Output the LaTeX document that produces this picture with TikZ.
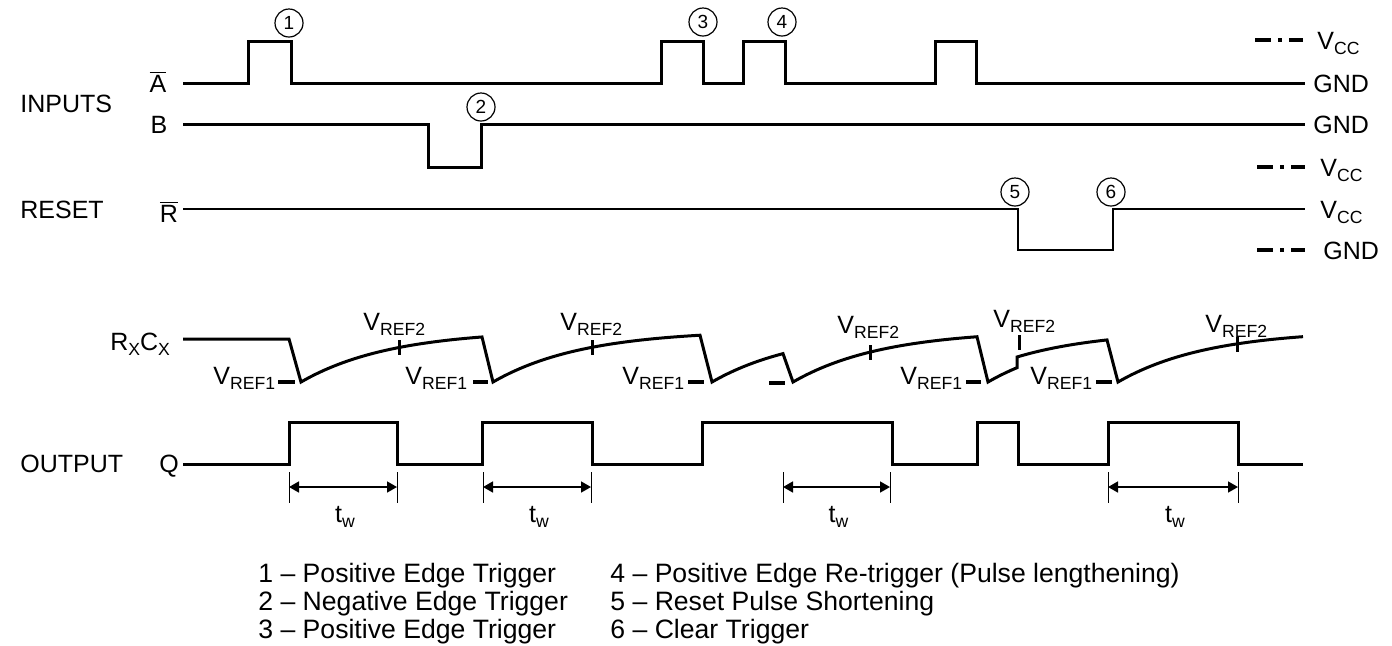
\documentclass[tikz,border=0pt]{standalone}
\usepackage{fontspec}
\setmainfont{Liberation Sans}
\usetikzlibrary{arrows.meta}
\newcommand{\lsub}[1]{\raisebox{-2.6pt}{\fontsize{8.8}{9}\selectfont #1}}
\newcommand{\ovl}[1]{$\overline{\hbox{#1}}$}
\begin{document}
\begin{tikzpicture}[x=0.5pt,y=-0.5pt,
  wave/.style={line width=1.5pt, line join=miter},
  rwave/.style={line width=1.2pt, line join=miter},
  lbl/.style={inner sep=0pt, font=\fontsize{12.5}{14}\selectfont},
  leg/.style={inner sep=0pt, anchor=base west, font=\fontsize{13.3}{15}\selectfont},
  num/.style={circle, draw, line width=0.6pt, minimum size=14pt, inner sep=0pt, font=\fontsize{9.5}{10}\selectfont},
  vmark/.style={line width=1.6pt, dash pattern=on 8pt off 3.5pt on 2pt off 3.5pt on 7pt off 100pt},
  rtick/.style={line width=1.5pt},
  rdash/.style={line width=2pt},
  dimline/.style={line width=0.5pt},
  dimarrow/.style={line width=0.8pt, {Triangle[length=5pt,width=5.5pt]}-{Triangle[length=5pt,width=5.5pt]}}
]
\useasboundingbox (0,0) rectangle (1392,645);

% ---- left labels ----
\node[lbl, anchor=base west] (inputs) at (20,112) {INPUTS};
\node[lbl, anchor=base] (la) at (158,92) {\ovl{A}};
\node[lbl, anchor=base] (lb) at (159,133) {B};
\node[lbl, anchor=base west] (reset) at (20,218) {RESET};
\node[lbl, anchor=base] (lr) at (169,222) {\ovl{R}};
\node[lbl, anchor=base west] (rc) at (110,350) {R\lsub{X}C\lsub{X}};
\node[lbl, anchor=base west] (output) at (20,472) {OUTPUT};
\node[lbl, anchor=base] (lq) at (169,472) {Q};

% ---- right labels ----
\node[lbl, anchor=base west] (vcc1) at (1317,49) {V\lsub{CC}};
\node[lbl, anchor=base west] (gnd1) at (1313,92) {GND};
\node[lbl, anchor=base west] (gnd2) at (1313,133) {GND};
\node[lbl, anchor=base west] (vcc2) at (1320,176) {V\lsub{CC}};
\node[lbl, anchor=base west] (vcc3) at (1320,218) {V\lsub{CC}};
\node[lbl, anchor=base west] (gnd3) at (1323,259) {GND};
\draw[vmark] (1255,40) -- (1305,40);
\draw[vmark] (1257,167) -- (1307,167);
\draw[vmark] (1257,250) -- (1307,250);

% ---- input waveforms ----
\draw[wave] (183,83) -- (248,83) -- (248,41) -- (291,41) -- (291,83) -- (661,83) -- (661,41) -- (703,41) -- (703,83)
  -- (743,83) -- (743,41) -- (785,41) -- (785,83) -- (935,83) -- (935,41) -- (976,41) -- (976,83) -- (1305,83);
\draw[wave] (183,124) -- (428,124) -- (428,167) -- (481,167) -- (481,124) -- (1305,124);
\draw[rwave] (183,209) -- (1018,209) -- (1018,250) -- (1113,250) -- (1113,209) -- (1305,209);

% ---- numbered markers ----
\node[num] (n1) at (289,23) {1};
\node[num] (n2) at (481,107) {2};
\node[num] (n3) at (703,22) {3};
\node[num] (n4) at (782,22) {4};
\node[num] (n5) at (1015,192) {5};
\node[num] (n6) at (1111,192) {6};

% ---- RxCx waveform ----
\draw[wave] (183,339) -- (289,339)
  -- plot[domain=0:181, samples=40] ({301+\x},{330+52*exp(-\x/90)})
  -- plot[domain=0:207, samples=40] ({493+\x},{330+52*exp(-\x/90)})
  -- plot[domain=0:71, samples=20] ({712+\x},{330+52*exp(-\x/90)})
  -- plot[domain=0:184, samples=40] ({793+\x},{330+52*exp(-\x/90)})
  -- plot[domain=0:29, samples=10] ({988+\x},{330+52*exp(-\x/90)})
  -- plot[domain=59:149, samples=25] ({958+\x},{330+52*exp(-\x/90)})
  -- plot[domain=0:185, samples=40] ({1118+\x},{330+52*exp(-\x/90)});

% VREF2 ticks
\draw[rtick] (399,340) -- (399,355);
\draw[rtick] (592,340) -- (592,355);
\draw[rtick] (870,345) -- (870,360);
\draw[rtick] (1019,335) -- (1019,350);
\draw[rtick] (1237,337) -- (1237,352);
% VREF1 dashes
\draw[rdash] (278,382) -- (295,382);
\draw[rdash] (473,382) -- (488,382);
\draw[rdash] (688,382) -- (704,382);
\draw[rdash] (769,383) -- (785,383);
\draw[rdash] (966,382) -- (981,382);
\draw[rdash] (1096,382) -- (1112,382);

% VREF labels
\node[lbl, anchor=base west] (r1a) at (213,384) {V\lsub{REF1}};
\node[lbl, anchor=base west] (r1b) at (405,384) {V\lsub{REF1}};
\node[lbl, anchor=base west] (r1c) at (622,384) {V\lsub{REF1}};
\node[lbl, anchor=base west] (r1d) at (900,384) {V\lsub{REF1}};
\node[lbl, anchor=base west] (r1e) at (1030,384) {V\lsub{REF1}};
\node[lbl, anchor=base west] (r2a) at (363,330) {V\lsub{REF2}};
\node[lbl, anchor=base west] (r2b) at (560,330) {V\lsub{REF2}};
\node[lbl, anchor=base west] (r2c) at (837,333) {V\lsub{REF2}};
\node[lbl, anchor=base west] (r2d) at (993,327) {V\lsub{REF2}};
\node[lbl, anchor=base west] (r2e) at (1205,332) {V\lsub{REF2}};

% ---- Q waveform ----
\draw[wave] (183,464) -- (289,464) -- (289,422) -- (397,422) -- (397,464) -- (482,464) -- (482,422) -- (592,422) -- (592,464)
  -- (702,464) -- (702,422) -- (892,422) -- (892,464) -- (977,464) -- (977,422) -- (1018,422) -- (1018,464)
  -- (1108,464) -- (1108,422) -- (1238,422) -- (1238,464) -- (1303,464);

% ---- tw dimensions ----
\foreach \a/\b/\n in {289/397/1, 483/591/2, 783/890/3, 1108/1238/4}{
  \draw[dimline] (\a,472) coordinate (ta\n) -- (\a,503);
  \draw[dimline] (\b,472) coordinate (tb\n) -- (\b,503);
  \draw[dimarrow] (\a,487) -- (\b,487);
  \node[lbl, anchor=base] (tw\n) at ({(\a+\b)/2+2},522) {t\lsub{w}};
}

% ---- legend ----
\node[leg] (l1) at (258,582) {1 – Positive Edge Trigger};
\node[leg] (l2) at (258,610) {2 – Negative Edge Trigger};
\node[leg] (l3) at (258,638) {3 – Positive Edge Trigger};
\node[leg] (l4) at (610,582) {4 – Positive Edge Re-trigger (Pulse lengthening)};
\node[leg] (l5) at (610,610) {5 – Reset Pulse Shortening};
\node[leg] (l6) at (610,638) {6 – Clear Trigger};
\end{tikzpicture}
\end{document}
